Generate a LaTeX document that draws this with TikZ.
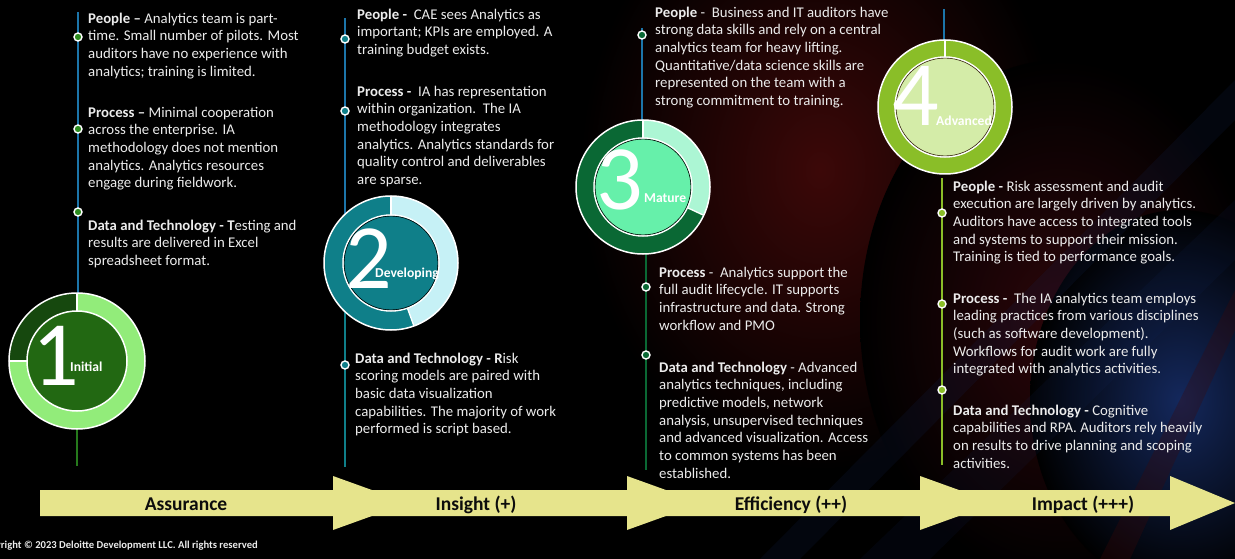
\documentclass[tikz,border=0pt]{standalone}
\usepackage{fontspec}
\setmainfont{Carlito}
\usetikzlibrary{calc}

\definecolor{txt}{RGB}{236,236,236}
\definecolor{lineblue}{RGB}{28,117,170}
\definecolor{g1line}{RGB}{38,122,28}
\definecolor{g1light}{RGB}{146,236,122}
\definecolor{g1dark}{RGB}{22,72,14}
\definecolor{g1in}{RGB}{34,104,18}
\definecolor{g1dot}{RGB}{44,140,30}
\definecolor{tealdark}{RGB}{15,127,137}
\definecolor{teallight}{RGB}{198,241,246}
\definecolor{g3dark}{RGB}{10,104,52}
\definecolor{g3light}{RGB}{172,246,212}
\definecolor{g3in}{RGB}{102,240,170}
\definecolor{g4ring}{RGB}{138,190,40}
\definecolor{g4in}{RGB}{212,236,168}
\definecolor{band}{RGB}{230,228,140}
\definecolor{bandtext}{RGB}{12,12,12}
\definecolor{glowred}{RGB}{60,8,8}
\definecolor{glowred2}{RGB}{44,6,10}
\definecolor{glowblue}{RGB}{20,40,92}

\begin{document}
\begin{tikzpicture}[x=1pt,y=1pt,
  body/.style={anchor=north west, inner sep=0pt, align=left, text=txt,
    font=\fontsize{14.8}{17.7}\selectfont},
  digit/.style={anchor=base, inner sep=0pt, text=white,
    font=\fontsize{92}{92}\selectfont},
  stagelabel/.style={anchor=base west, inner sep=0pt, text=white,
    font=\fontsize{13.6}{14}\selectfont\bfseries},
  bandlabel/.style={anchor=base, inner sep=0pt, text=bandtext,
    font=\fontsize{19.5}{20}\selectfont\bfseries},
  dot/.style={circle, draw=white, line width=1.4pt, inner sep=0pt,
    minimum size=8pt, fill=#1},
  sep/.style={white, line width=1.3pt},
  stem/.style={line width=1.6pt},
  band/.style={fill=band}]

\useasboundingbox (0,0) rectangle (1235,-559);
\clip (0,0) rectangle (1235,-559);
\fill[black] (0,0) rectangle (1235,-559);

% dim coloured glow on the right half of the slide
\shade[inner color=glowred, outer color=black] (820,-170) ellipse[x radius=240, y radius=300];
\shade[inner color=glowred2, outer color=black] (1060,-320) ellipse[x radius=200, y radius=260];
\shade[inner color=glowblue, outer color=black] (1180,-400) ellipse[x radius=150, y radius=190];
\fill[glowblue, opacity=.16] (760,-559) -- (800,-559) -- (1235,-120) -- (1235,-80) -- cycle;
\fill[glowblue, opacity=.12] (860,-559) -- (930,-559) -- (1235,-260) -- (1235,-200) -- cycle;
\fill[glowred, opacity=.3] (1100,-559) -- (1130,-559) -- (1235,-330) -- (1235,-290) -- cycle;

% ---------- vertical stems ----------
\coordinate (a1) at (78,-12);   \coordinate (b1) at (78,-300);
\coordinate (e1) at (77,-425);  \coordinate (f1) at (77,-466);
\coordinate (a2) at (345,-18);  \coordinate (b2) at (345,-240);
\coordinate (e2) at (345,-290); \coordinate (f2) at (345,-467);
\coordinate (a3) at (642,-28);  \coordinate (b3) at (642,-150);
\coordinate (e3) at (646,-240); \coordinate (f3) at (646,-470);
\coordinate (a4) at (944,-9);   \coordinate (b4) at (944,-45);
\coordinate (e4) at (942,-178); \coordinate (f4) at (942,-465);

\draw[stem, lineblue] (a1) -- (b1);
\draw[stem, g1line] (e1) -- (f1);
\draw[stem, lineblue] (a2) -- (b2);
\draw[stem, tealdark] (e2) -- (f2);
\draw[stem, lineblue] (a3) -- (b3);
\draw[stem, g3dark] (e3) -- (f3);
\draw[stem, lineblue] (a4) -- (b4);
\draw[stem, g4ring] (e4) -- (f4);

% ---------- stage 1 ----------
\coordinate (c1) at (77,-361);
\fill[g1light] (c1) circle[radius=68];
\fill[g1dark] (c1) -- ++(90:68) arc[start angle=90, end angle=180, radius=68] -- cycle;
\draw[sep] (c1) -- ++(90:68);
\draw[sep] (c1) -- ++(180:68);
\draw[white, line width=1.5pt] (c1) circle[radius=68];
\fill[g1in] (c1) circle[radius=50];
\draw[white, line width=1.5pt] (c1) circle[radius=50];
\node[digit] (d1) at (55.5,-385) {1};
\node[stagelabel] (s1) at (70,-371) {Initial};

% ---------- stage 2 ----------
\coordinate (c2) at (391,-263);
\fill[tealdark] (c2) circle[radius=67];
\fill[teallight] (c2) -- ++(-70:67) arc[start angle=-70, end angle=90, radius=67] -- cycle;
\draw[sep] (c2) -- ++(90:67);
\draw[sep] (c2) -- ++(-70:67);
\draw[white, line width=1.5pt] (c2) circle[radius=67];
\fill[tealdark] (c2) circle[radius=48];
\draw[white, line width=1.5pt] (c2) circle[radius=48];
\draw[black, line width=.6pt] (c2) circle[radius=46.9];
\node[digit] (d2) at (369,-288) {2};
\node[stagelabel] (s2) at (375,-277) {Developing};

% ---------- stage 3 ----------
\coordinate (c3) at (643,-187);
\fill[g3dark] (c3) circle[radius=67];
\fill[g3light] (c3) -- ++(-25:67) arc[start angle=-25, end angle=90, radius=67] -- cycle;
\draw[sep] (c3) -- ++(90:67);
\draw[sep] (c3) -- ++(-25:67);
\draw[white, line width=1.5pt] (c3) circle[radius=67];
\fill[g3in] (c3) circle[radius=49];
\draw[white, line width=1.5pt] (c3) circle[radius=49];
\draw[black, line width=.6pt] (c3) circle[radius=47.9];
\node[digit] (d3) at (620,-210) {3};
\node[stagelabel] (s3) at (644,-202) {Mature};

% ---------- stage 4 ----------
\coordinate (c4) at (945,-107);
\fill[g4ring] (c4) circle[radius=67];
\draw[sep] (c4) -- ++(90:67);
\draw[white, line width=1.5pt] (c4) circle[radius=67];
\fill[g4in] (c4) circle[radius=50];
\draw[white, line width=1.5pt] (c4) circle[radius=50];
\draw[black!70!brown, line width=.6pt] (c4) circle[radius=48.9];
\node[digit] (d4) at (916,-126) {4};
\node[stagelabel] (s4) at (936,-126) {Advanced};

% ---------- timeline dots ----------
\node[dot=g1dot] (p1) at (78,-37) {};
\node[dot=g1dot] (q1) at (78,-129) {};
\node[dot=g1dot] (r1) at (78,-212) {};
\node[dot=tealdark] (p2) at (345,-39) {};
\node[dot=tealdark] (q2) at (345,-111) {};
\node[dot=tealdark] (r2) at (345,-365) {};
\node[dot=g3dark] (p3) at (642,-35) {};
\node[dot=g3dark] (q3) at (646,-287) {};
\node[dot=g3dark] (r3) at (646,-355) {};
\node[dot=g4ring] (p4) at (942,-213) {};
\node[dot=g4ring] (q4) at (942,-304) {};
\node[dot=g4ring] (r4) at (942,-390) {};

% ---------- texts, stage 1 ----------
\node[body] (t1a) at (88,-10.6) {\strut\textbf{People –} Analytics team is part-\\time. Small number of pilots. Most\\auditors have no experience with\\analytics; training is limited.};
\node[body] (t1b) at (88,-104.6) {\strut\textbf{Process –} Minimal cooperation\\across the enterprise. IA\\methodology does not mention\\analytics. Analytics resources\\engage during fieldwork.};
\node[body] (t1c) at (88,-217.6) {\strut\textbf{Data and Technology - T}esting and\\results are delivered in Excel\\spreadsheet format.};

% ---------- texts, stage 2 ----------
\node[body] (t2a) at (357,-6.6) {\strut\textbf{People -}\ \ CAE sees Analytics as\\important; KPIs are employed. A\\training budget exists.};
\node[body] (t2b) at (357,-83.6) {\strut\textbf{Process -}\ \ IA has representation\\within organization.\ \ The IA\\methodology integrates\\analytics. Analytics standards for\\quality control and deliverables\\are sparse.};
\node[body] (t2c) at (355,-350.6) {\strut\textbf{Data and Technology - R}isk\\scoring models are paired with\\basic data visualization\\capabilities. The majority of work\\performed is script based.};

% ---------- texts, stage 3 ----------
\node[body] (t3a) at (655,-4.6) {\strut\textbf{People} -\ \ Business and IT auditors have\\strong data skills and rely on a central\\analytics team for heavy lifting.\\Quantitative/data science skills are\\represented on the team with a\\strong commitment to training.};
\node[body] (t3b) at (659,-264.6) {\strut\textbf{Process} -\ \ Analytics support the\\full audit lifecycle. IT supports\\infrastructure and data. Strong\\workflow and PMO};
\node[body] (t3c) at (659,-359.6) {\strut\textbf{Data and Technology} - Advanced\\analytics techniques, including\\predictive models, network\\analysis, unsupervised techniques\\and advanced visualization. Access\\to common systems has been\\established.};

% ---------- texts, stage 4 ----------
\node[body] (t4a) at (953,-178.6) {\strut\textbf{People -} Risk assessment and audit\\execution are largely driven by analytics.\\Auditors have access to integrated tools\\and systems to support their mission.\\Training is tied to performance goals.};
\node[body] (t4b) at (953,-290.6) {\strut\textbf{Process -}\ \ The IA analytics team employs\\leading practices from various disciplines\\(such as software development).\\Workflows for audit work are fully\\integrated with analytics activities.};
\node[body] (t4c) at (953,-402.6) {\strut\textbf{Data and Technology -} Cognitive\\capabilities and RPA. Auditors rely heavily\\on results to drive planning and scoping\\activities.};

% ---------- maturity band ----------
\fill[band] (40,-490) -- (333,-490) -- (333,-476) -- (408,-503) -- (333,-530) -- (333,-516) -- (40,-516) -- cycle;
\fill[band] (333,-490) -- (627,-490) -- (627,-476) -- (702,-503) -- (627,-530) -- (627,-516) -- (333,-516) -- cycle;
\fill[band] (627,-490) -- (920,-490) -- (920,-476) -- (995,-503) -- (920,-530) -- (920,-516) -- (627,-516) -- cycle;
\fill[band] (920,-490) -- (1170,-490) -- (1170,-476) -- (1235,-503) -- (1170,-530) -- (1170,-516) -- (920,-516) -- cycle;
\node[bandlabel] (l1) at (186,-510) {Assurance};
\node[bandlabel] (l2) at (476,-510) {Insight (+)};
\node[bandlabel] (l3) at (791,-510) {Efficiency (++)};
\node[bandlabel] (l4) at (1083,-510) {Impact (+++)};

% ---------- footer ----------
\node[anchor=base east, inner sep=0pt, text=txt, font=\fontsize{10.6}{11}\selectfont\bfseries] (copy) at (258,-548) {Copyright © 2023 Deloitte Development LLC. All rights reserved};

\end{tikzpicture}
\end{document}
